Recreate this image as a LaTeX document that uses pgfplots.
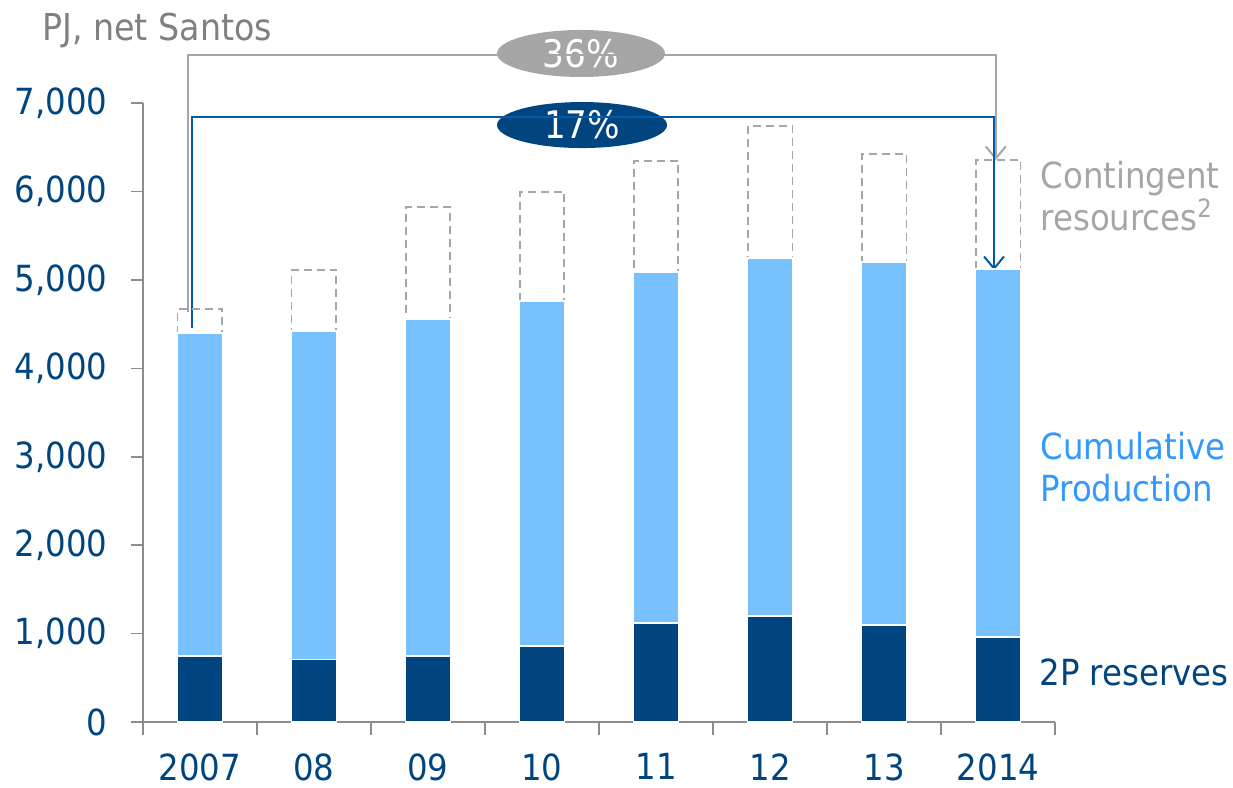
\documentclass[border=0pt]{standalone}
\usepackage{fontspec}
\setmainfont{DejaVu Sans Condensed}
\usepackage{pgfplots}
\pgfplotsset{compat=1.18}
\usetikzlibrary{arrows.meta,shapes.geometric}

\definecolor{dblue}{RGB}{0,69,127}
\definecolor{lblue}{RGB}{119,193,255}
\definecolor{cumtext}{RGB}{51,153,255}
\definecolor{cgray}{RGB}{166,166,166}
\definecolor{tgray}{RGB}{128,128,128}
\definecolor{axgray}{RGB}{140,140,140}
\definecolor{lineblue}{RGB}{0,90,168}

\begin{document}
\fontsize{18}{21}\selectfont
\begin{tikzpicture}
\begin{axis}[
    scale only axis,
    width=456pt, height=309.5pt,
    xmin=-0.5, xmax=7.5,
    ymin=0, ymax=7000,
    clip=false,
    ybar stacked,
    bar width=0.39,
    axis x line*=bottom,
    axis y line*=left,
    axis line style={draw=axgray, line width=0.75pt},
    tick align=outside,
    xtick={0,...,7},
    xticklabels={2007,08,09,10,11,12,13,2014},
    major x tick style={draw=none},
    minor xtick={-0.5,0.5,...,7.5},
    minor tick length=6.5pt,
    major tick length=6pt,
    tick style={draw=axgray, line width=0.75pt},
    ytick={0,1000,...,7000},
    tick label style={text=dblue},
    y tick label style={xshift=-5.5pt, /pgf/number format/.cd, 1000 sep={,}, assume math mode=true},
    x tick label style={yshift=-3.5pt},
]
% 2P reserves
\addplot[fill=dblue, draw=white, line width=0.6pt] coordinates {
    (0,746) (1,712) (2,746) (3,860) (4,1120) (5,1199) (6,1097) (7,961)
};
% Cumulative production
\addplot[fill=lblue, draw=white, line width=0.6pt] coordinates {
    (0,3653) (1,3710) (2,3811) (3,3901) (4,3969) (5,4048) (6,4105) (7,4162)
};
% Contingent resources
\addplot[fill=none, draw=cgray, line width=0.75pt, dash pattern=on 4pt off 2.5pt] coordinates {
    (0,271) (1,689) (2,1267) (3,1232) (4,1255) (5,1493) (6,1221) (7,1232)
};

% brackets
\draw[lineblue, line width=1pt, -{Straight Barb[length=6pt,width=10pt]}]
    (axis cs:-0.07,4455) -- (axis cs:-0.07,6842) -- (axis cs:6.965,6842) -- (axis cs:6.965,5111);
\draw[cgray, line width=1pt, -{Straight Barb[length=6pt,width=10pt]}]
    (axis cs:-0.105,4636) -- (axis cs:-0.105,7543) -- (axis cs:6.98,7543) -- (axis cs:6.98,6355);
\node[ellipse, fill=cgray, text=white, minimum width=84pt, minimum height=23.5pt, inner sep=0pt]
    at (axis cs:3.342,7560) {\fontsize{19}{21}\selectfont 36\%};
\node[ellipse, fill=dblue, text=white, minimum width=85pt, minimum height=23pt, inner sep=0pt]
    at (axis cs:3.351,6751) {\fontsize{19}{21}\selectfont 17\%};

% labels
\node[anchor=west, text=tgray, inner sep=0pt] at (axis cs:-1.386,7825) {\fontsize{18.5}{21}\selectfont PJ, net Santos};
\node[anchor=west, align=left, text=cgray, inner sep=0pt] at (axis cs:7.37,5948)
    {Contingent\\resources\textsuperscript{2}};
\node[anchor=west, align=left, text=cumtext, inner sep=0pt] at (axis cs:7.37,2878)
    {Cumulative\\Production};
\node[anchor=west, text=dblue, inner sep=0pt] at (axis cs:7.36,565) {2P reserves};

\coordinate (bbsw) at (axis cs:-1.754,-735);
\coordinate (bbne) at (axis cs:9.061,8165);
\end{axis}
\pgfresetboundingbox
\path[use as bounding box] (bbsw) rectangle (bbne);
\end{tikzpicture}
\end{document}
